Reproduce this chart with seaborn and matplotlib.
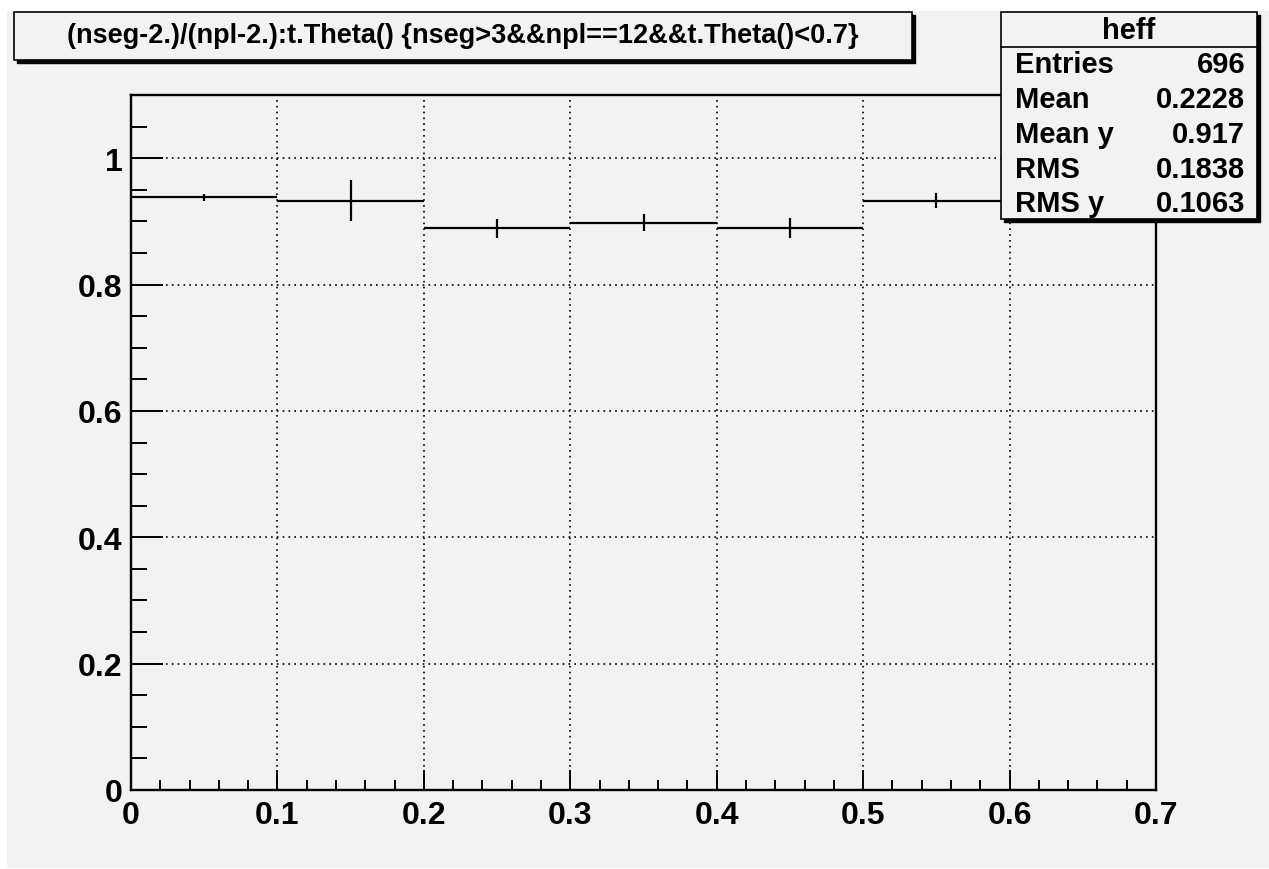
import numpy as np
import pandas as pd
import matplotlib
matplotlib.use("Agg")
import matplotlib.pyplot as plt
import seaborn as sns
from matplotlib.patches import Rectangle
from matplotlib.ticker import FixedLocator, FixedFormatter, MultipleLocator

# datos del perfil
bin_lo = [0.0, 0.1, 0.2, 0.3, 0.4, 0.5]
bin_hi = [0.1, 0.2, 0.3, 0.4, 0.5, 0.6]
eff = [0.938, 0.933, 0.889, 0.898, 0.889, 0.933]
eff_err = [0.006, 0.033, 0.015, 0.014, 0.016, 0.012]

x_ticks = [0, 0.1, 0.2, 0.3, 0.4, 0.5, 0.6, 0.7]
x_labels = ["0", "0.1", "0.2", "0.3", "0.4", "0.5", "0.6", "0.7"]
y_ticks = [0, 0.2, 0.4, 0.6, 0.8, 1.0]
y_labels = ["0", "0.2", "0.4", "0.6", "0.8", "1"]

title = "(nseg-2.)/(npl-2.):t.Theta() {nseg>3&&npl==12&&t.Theta()<0.7}"
stats_name = "heff"
stats_keys = ["Entries", "Mean", "Mean y", "RMS", "RMS y"]
stats_vals = ["696", "0.2228", "0.917", "0.1838", "0.1063"]

df = pd.DataFrame({"lo": bin_lo, "hi": bin_hi, "eff": eff, "err": eff_err})
df["center"] = (df["lo"] + df["hi"]) / 2
df["half"] = (df["hi"] - df["lo"]) / 2

bg = "#f2f2f2"
sns.set_theme(style="ticks", rc={"axes.facecolor": bg, "axes.edgecolor": "black",
                                 "text.color": "black", "xtick.color": "black",
                                 "ytick.color": "black"})
plt.rcParams["font.family"] = ["Liberation Sans", "DejaVu Sans"]
plt.rcParams["font.weight"] = "bold"

W, H = 1269, 870
fig = plt.figure(figsize=(W / 100, H / 100), dpi=100, facecolor="white")

# panel gris del canvas
fig.patches.append(Rectangle((7 / W, 1 / H), 1 - 7 / W, 1 - 13 / H, transform=fig.transFigure,
                             facecolor=bg, edgecolor="none", zorder=-10))

ax = fig.add_axes([131 / W, 1 - 791 / H, (1156 - 131) / W, (791 - 96) / H])
ax.set_facecolor(bg)

ax.errorbar(df["center"], df["eff"], xerr=df["half"], yerr=df["err"], fmt="none",
            ecolor="black", elinewidth=1.6, capsize=0, zorder=3)

ax.set_xlim(0, 0.7)
ax.set_ylim(0, 1.1)
ax.xaxis.set_major_locator(FixedLocator(x_ticks))
ax.xaxis.set_major_formatter(FixedFormatter(x_labels))
ax.yaxis.set_major_locator(FixedLocator(y_ticks))
ax.yaxis.set_major_formatter(FixedFormatter(y_labels))
ax.xaxis.set_minor_locator(MultipleLocator(0.02))
ax.yaxis.set_minor_locator(MultipleLocator(0.05))

ax.grid(True, which="major", color="black", linestyle=(0, (1, 2.5)), linewidth=1.2)
for s in ax.spines.values():
    s.set_linewidth(1.7)
ax.tick_params(axis="x", which="major", direction="in", length=14.5, width=1.4,
               labelsize=23, pad=7)
ax.tick_params(axis="x", which="minor", direction="in", length=7.2, width=1.4)
ax.tick_params(axis="y", which="major", direction="in", length=23, width=1.4,
               labelsize=23, pad=6)
ax.tick_params(axis="y", which="minor", direction="in", length=11.5, width=1.4)
for lab in ax.get_xticklabels() + ax.get_yticklabels():
    lab.set_fontweight("bold")
ax.set_xlabel("")
ax.set_ylabel("")


def caja(x0, y0, x1, y1):
    # caja con sombra estilo ROOT, en pixeles
    fig.patches.append(Rectangle((x0 / W + 2.5 / W, 1 - (y1 + 2.5) / H), (x1 - x0) / W, (y1 - y0) / H,
                                 transform=fig.transFigure, facecolor="black",
                                 edgecolor="black", zorder=5))
    fig.patches.append(Rectangle((x0 / W, 1 - y1 / H), (x1 - x0) / W, (y1 - y0) / H,
                                 transform=fig.transFigure, facecolor=bg,
                                 edgecolor="black", linewidth=1.2, zorder=6))


# titulo
caja(14, 13, 912, 61)
fig.text(463 / W, 1 - 36 / H, title, ha="center", va="center", fontsize=19.5,
         fontweight="bold", zorder=7)

# caja de estadisticas
caja(1001, 13, 1257, 220)
fig.add_artist(plt.Line2D([1001 / W, 1257 / W], [1 - 48 / H, 1 - 48 / H], transform=fig.transFigure,
                          color="black", linewidth=1.2, zorder=7))
fig.text(1129 / W, 1 - 31 / H, stats_name, ha="center", va="center", fontsize=21,
         fontweight="bold", zorder=7)
row_y = [65, 100, 135, 170, 204]
for k, v, yy in zip(stats_keys, stats_vals, row_y):
    fig.text(1015 / W, 1 - yy / H, k, ha="left", va="center", fontsize=21, fontweight="bold", zorder=7)
    fig.text(1245 / W, 1 - yy / H, v, ha="right", va="center", fontsize=21, fontweight="bold", zorder=7)

fig.savefig("out.png", dpi=100, facecolor="white")
